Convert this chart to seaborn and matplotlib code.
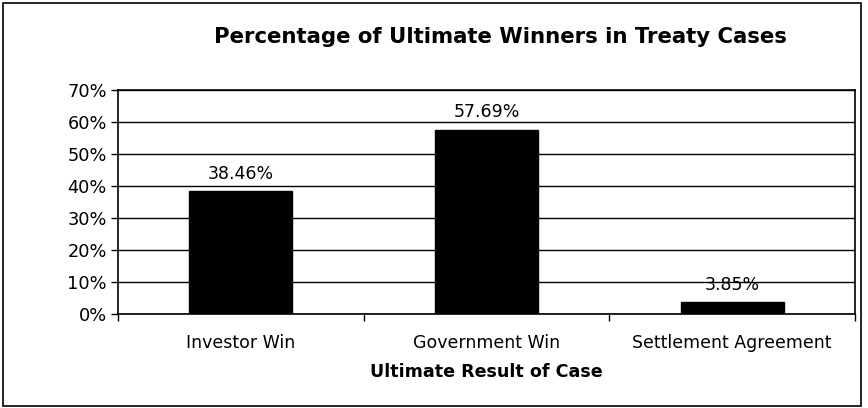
import matplotlib
matplotlib.use("Agg")
import matplotlib.pyplot as plt
import seaborn as sns
import pandas as pd
from matplotlib.patches import Rectangle
from matplotlib.ticker import FuncFormatter, FixedLocator

categories = ["Investor Win", "Government Win", "Settlement Agreement"]
values = [38.46, 57.69, 3.85]
labels = ["38.46%", "57.69%", "3.85%"]
yticks = [0, 10, 20, 30, 40, 50, 60, 70]

df = pd.DataFrame({"result": categories, "pct": values})

sns.set_style("white")
plt.rcParams["font.family"] = ["DejaVu Sans"]
plt.rcParams["text.color"] = "black"
plt.rcParams["xtick.color"] = "black"
plt.rcParams["ytick.color"] = "black"
plt.rcParams["axes.labelcolor"] = "black"

fig = plt.figure(figsize=(8.68, 4.08), dpi=100)
ax = fig.add_axes([0.136, 0.230, 0.849, 0.549])

sns.barplot(data=df, x="result", y="pct", color="black", width=0.42,
            saturation=1, edgecolor="black", ax=ax, zorder=3)

ax.set_ylim(0, 70)
ax.set_xlim(-0.5, 2.5)
ax.set_yticks(yticks)
ax.yaxis.set_major_formatter(FuncFormatter(lambda v, p: f"{v:.0f}%"))
ax.grid(axis="y", color="black", linewidth=1, zorder=0)
ax.set_axisbelow(True)

for i, (v, t) in enumerate(zip(values, labels)):
    ax.text(i, v + 2.6, t, ha="center", va="bottom", fontsize=12.5, zorder=4)

for s in ax.spines.values():
    s.set_color("black")
    s.set_linewidth(1.2)

ax.tick_params(axis="y", length=5, width=1, labelsize=12.8, pad=3, left=True)
ax.tick_params(axis="x", which="major", length=0, labelsize=12.5, pad=14)
ax.xaxis.set_minor_locator(FixedLocator([-0.5, 0.5, 1.5, 2.5]))
ax.tick_params(axis="x", which="minor", length=5, width=1, bottom=True)

ax.set_xlabel("Ultimate Result of Case", fontsize=12.6, fontweight="bold", labelpad=8)
ax.set_ylabel("")

fig.text(0.577, 0.909, "Percentage of Ultimate Winners in Treaty Cases",
         ha="center", va="center", fontsize=15.3, fontweight="bold")

fig.patches.append(Rectangle((0.004, 0.005), 0.988, 0.988, transform=fig.transFigure,
                             fill=False, edgecolor="black", linewidth=1.2))

fig.savefig("out.png", dpi=100)
